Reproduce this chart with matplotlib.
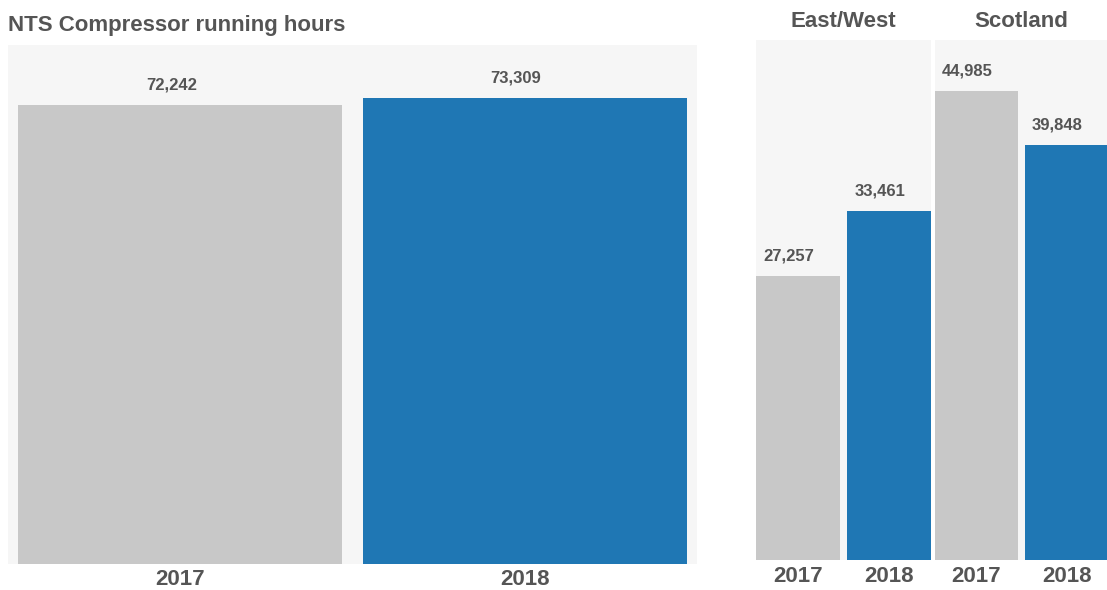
import matplotlib
matplotlib.use("Agg")
import matplotlib.pyplot as plt
from matplotlib.transforms import offset_copy

# data
years = ["2017", "2018"]
total_hours = [72242, 73309]
region_names = ["East/West", "Scotland"]
eastwest_hours = [27257, 33461]
scotland_hours = [44985, 39848]

GREY = "#c8c8c8"
BLUE = "#1f77b4"
TEXT = "#555555"
BG = "#f6f6f6"
FONT = "Liberation Sans"

W, H = 1107, 590
fig = plt.figure(figsize=(W / 100, H / 100), dpi=100)


def px_axes(x0, y0, x1, y1):
    # pixel box (top-left origin) -> figure axes
    return fig.add_axes([x0 / W, 1 - y1 / H, (x1 - x0) / W, (y1 - y0) / H])


def draw_panel(ax, values, ymax, xlim, width, tick_pad):
    ax.set_facecolor(BG)
    xs = list(range(len(values)))
    ax.bar(xs, values, width=width, color=[GREY, BLUE])
    ax.set_xlim(*xlim)
    ax.set_ylim(0, ymax)
    for s in ax.spines.values():
        s.set_visible(False)
    ax.set_yticks([])
    ax.set_xticks(xs)
    ax.set_xticklabels(years, fontsize=16, fontweight="bold", color=TEXT,
                       family=FONT)
    ax.tick_params(axis="x", length=0, pad=tick_pad)
    for x, v in zip(xs, values):
        ax.annotate(f"{v:,}", (x, v), xytext=(-6.5, 14.5),
                    textcoords="offset points", ha="center", va="center",
                    fontsize=12, fontweight="bold", color=TEXT, family=FONT)


# left: total
ax_total = px_axes(8, 45, 697, 564)
draw_panel(ax_total, total_hours, 81700, (-0.5, 1.5), 0.94, 3.5)

# right: regions
ax_ew = px_axes(756, 40, 931, 560)
draw_panel(ax_ew, eastwest_hours, 49900, (-0.46, 1.46), 0.92, 4)
ax_sc = px_axes(935, 40, 1108, 560)
draw_panel(ax_sc, scotland_hours, 49900, (-0.46, 1.46), 0.92, 4)

for ax, name in zip([ax_ew, ax_sc], region_names):
    ax.text(0.5, 1.0, name, transform=offset_copy(ax.transAxes, fig=fig,
                                                  y=13, units="points"),
            ha="center", va="center", fontsize=16, fontweight="bold",
            color=TEXT, family=FONT)

fig.text(8 / W, 1 - 26 / H, "NTS Compressor running hours", ha="left",
         va="center", fontsize=16, fontweight="bold", color=TEXT, family=FONT)

fig.savefig("out.png", dpi=100)
